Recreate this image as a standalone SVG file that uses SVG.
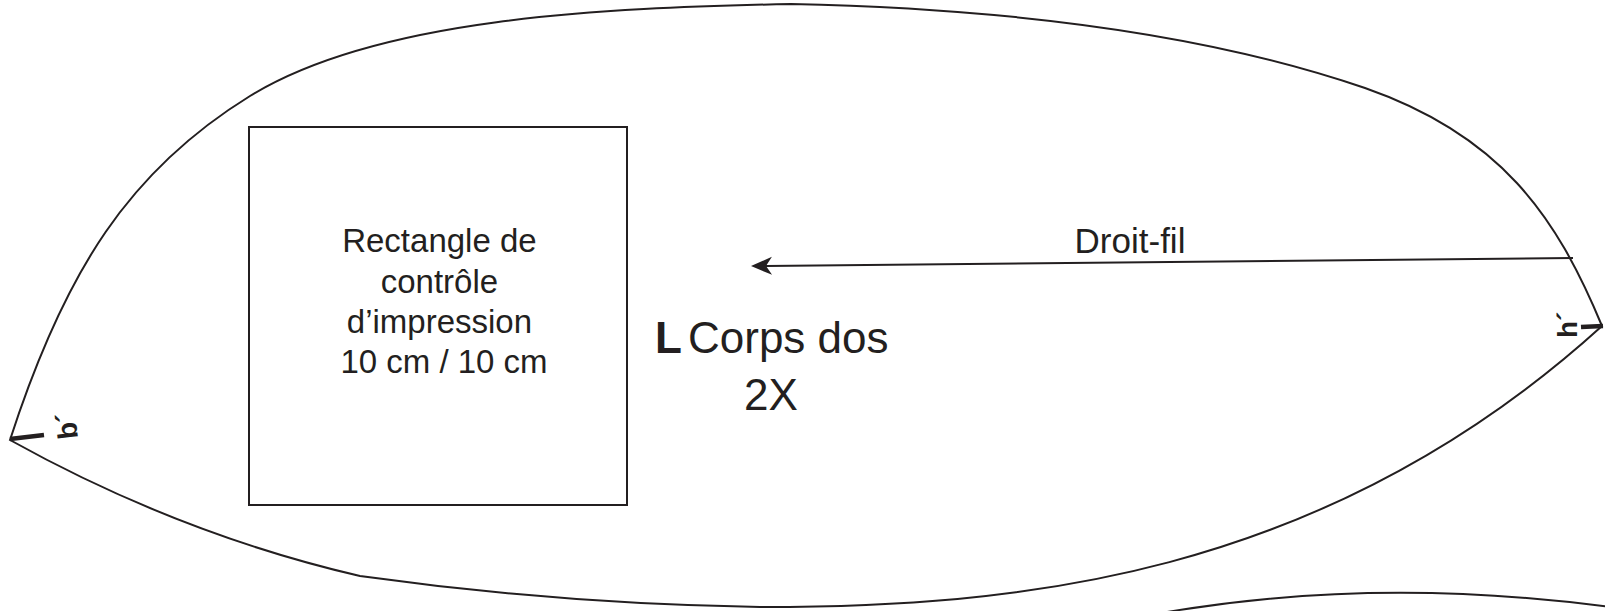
<svg xmlns="http://www.w3.org/2000/svg" width="1605" height="611" viewBox="0 0 1605 611">
  <style>
    .outline { fill: none; stroke: #231f20; stroke-width: 2; stroke-linejoin: miter; }
    .notch { stroke: #231f20; stroke-width: 4.5; stroke-linecap: butt; }
    .txt { font-family: "Liberation Sans", Arial, sans-serif; fill: #231f20; }
    .notchlbl { font-family: "Liberation Sans", Arial, sans-serif; font-weight: bold; font-size: 28px; fill: #231f20; }
    .grain { stroke: #231f20; stroke-width: 2; fill: none; }
  </style>
  <defs>
    <marker id="arrow" viewBox="-22 -10 24 20" markerWidth="24" markerHeight="20" refX="-15" refY="0" markerUnits="userSpaceOnUse" orient="auto">
      <path d="M0,0 L-21,-9 L-15,0 L-21,9 Z" fill="#231f20"/>
    </marker>
  </defs>
  <rect width="1605" height="611" fill="#ffffff"/>

  <g id="piece-corps-dos">
    <path class="outline" d="M10,440 C65,270 130,170 250,96 C377,18 600,8 791,4 C981,8 1190,28 1365,88 C1500,135 1556,215 1602,326 C1321,581 1010,607 760,607 Q560,604 360,576 Q179,534 10,440 Z"/>
    <text class="txt" x="655" y="353" font-size="44" font-weight="bold">L</text>
    <text class="txt" x="688" y="353" font-size="44">Corps dos</text>
    <text class="txt" x="771" y="410" font-size="44" text-anchor="middle">2X</text>
  </g>

  <g id="notch-b">
    <line class="notch" x1="10" y1="439" x2="44" y2="435"/>
    <text class="notchlbl" transform="translate(78,438) rotate(-97)">b´</text>
  </g>

  <g id="notch-h">
    <line class="notch" x1="1581" y1="327" x2="1603" y2="326"/>
    <text class="notchlbl" transform="translate(1577,338) rotate(-90)">h´</text>
  </g>

  <g id="control-rectangle">
    <rect x="249" y="127" width="378" height="378" fill="none" stroke="#231f20" stroke-width="2"/>
    <text class="txt" font-size="33" text-anchor="middle">
      <tspan x="444" y="252">Rectangle de</tspan>
      <tspan x="444" y="293">contrôle</tspan>
      <tspan x="444" y="333">d’impression</tspan>
      <tspan x="444" y="373">10 cm / 10 cm</tspan>
    </text>
  </g>

  <g id="piece-next">
    <path class="outline" d="M1150,615 Q1370,575 1610,607"/>
  </g>

  <g id="connectors">
    <line class="grain" x1="1573" y1="258" x2="766" y2="265.9" marker-end="url(#arrow)"/>
    <text class="txt" x="1130" y="253" font-size="35" text-anchor="middle">Droit-fil</text>
  </g>
</svg>
